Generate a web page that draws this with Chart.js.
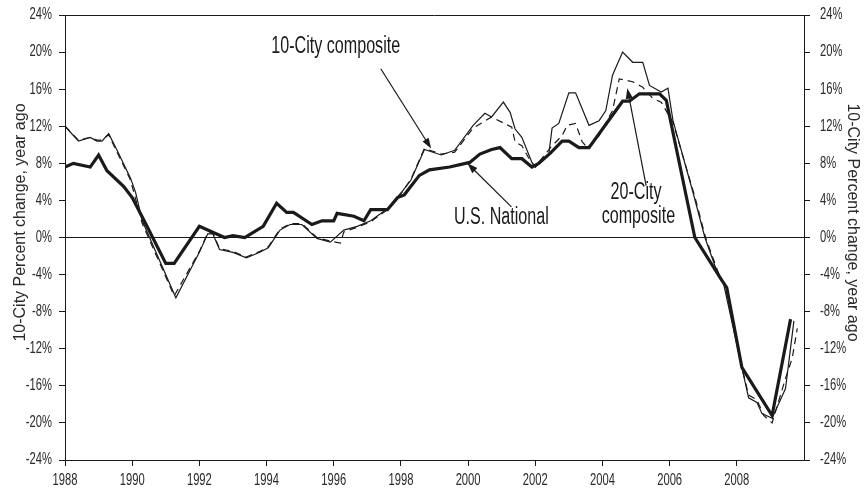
<!DOCTYPE html>
<html>
<head>
<meta charset="utf-8">
<script src="https://cdn.jsdelivr.net/npm/chart.js@4.4.1/dist/chart.umd.min.js"></script>
<style>
  html, body { margin: 0; padding: 0; background: #fff; }
  canvas { display: block; }
</style>
</head>
<body>
<canvas id="c" width="866" height="488"></canvas>
<script>
// ---------------- DATA ----------------
const nationalYears = [1988.0, 1988.25, 1988.75, 1989.0, 1989.25, 1989.75, 1990.0, 1990.4, 1991.0, 1991.25,
  1992.0, 1992.75, 1993.0, 1993.35, 1993.9, 1994.3, 1994.6, 1994.8, 1995.35, 1995.65, 1996.0, 1996.1,
  1996.6, 1996.9, 1997.1, 1997.6, 1997.9, 1998.1, 1998.55, 1998.85, 1999.45, 2000.05, 2000.35, 2000.7,
  2000.95, 2001.3, 2001.6, 2001.9, 2002.1, 2002.45, 2002.8, 2003.0, 2003.3, 2003.6, 2004.6, 2004.8,
  2005.1, 2005.7, 2005.9, 2006.75, 2007.55, 2007.7, 2008.15, 2009.05, 2009.6];
const nationalValues = [7.6, 8.0, 7.6, 8.9, 7.2, 5.5, 4.3, 1.5, -2.8, -2.8,
  1.2, 0.0, 0.2, 0.0, 1.2, 3.7, 2.7, 2.7, 1.4, 1.8, 1.8, 2.6,
  2.3, 1.8, 3.0, 3.0, 4.3, 4.6, 6.7, 7.3, 7.6, 8.1, 9.0, 9.5,
  9.7, 8.5, 8.5, 7.6, 8.0, 9.1, 10.4, 10.4, 9.7, 9.7, 14.7, 14.7,
  15.5, 15.5, 14.8, 0.0, -4.6, -5.4, -14.0, -19.2, -8.8];

const city10Years = [1988.0, 1988.4, 1988.75, 1988.95, 1989.1, 1989.3, 1989.55, 1989.95, 1990.1, 1990.3,
  1991.3, 1992.0, 1992.25, 1992.4, 1992.6, 1993.0, 1993.4, 1993.8, 1994.05, 1994.4, 1994.7, 1995.05,
  1995.5, 1995.9, 1996.3, 1996.7, 1997.1, 1997.6, 1998.0, 1998.3, 1998.7, 1999.2, 1999.6, 2000.15,
  2000.5, 2000.7, 2001.05, 2001.25, 2001.4, 2001.6, 2001.9, 2002.0, 2002.4, 2002.5, 2002.7, 2003.0,
  2003.2, 2003.6, 2003.9, 2004.1, 2004.3, 2004.6, 2004.9, 2005.2, 2005.4, 2005.75, 2005.95, 2006.1,
  2006.7, 2007.05, 2007.45, 2007.6, 2008.15, 2008.35, 2008.6, 2008.75, 2009.05, 2009.45, 2009.7];
const city10Values = [12.0, 10.4, 10.8, 10.4, 10.4, 11.2, 9.4, 6.4, 4.9, 1.8,
  -6.5, -1.6, 0.4, 0.4, -1.3, -1.6, -2.2, -1.6, -1.1, 0.8, 1.4, 1.4,
  -0.1, -0.5, 0.8, 1.2, 1.8, 3.1, 4.8, 6.2, 9.5, 8.9, 9.4, 12.1,
  13.4, 13.0, 14.6, 13.5, 11.7, 10.8, 8.1, 7.6, 8.9, 11.8, 12.3, 15.6,
  15.6, 12.1, 12.6, 13.7, 17.5, 20.0, 18.9, 18.9, 16.4, 15.7, 16.1, 12.6,
  4.8, 0.0, -4.1, -4.9, -14.0, -17.3, -17.8, -19.0, -19.5, -16.3, -9.0];

const city20Years = [1988.0, 1988.4, 1988.75, 1988.95, 1989.1, 1989.3, 1989.55, 1989.95, 1990.3, 1991.25,
  1992.0, 1992.25, 1992.4, 1992.6, 1993.0, 1993.4, 1993.8, 1994.05, 1994.4, 1994.7, 1995.05, 1995.5,
  1995.9, 1996.2, 1996.3, 1996.7, 1997.1, 1997.6, 1998.0, 1998.3, 1998.7, 1999.2, 1999.6, 2000.15,
  2000.7, 2001.3, 2001.4, 2001.6, 2001.8, 2002.0, 2002.45, 2002.8, 2002.95, 2003.2, 2003.4, 2003.55,
  2003.9, 2004.3, 2004.5, 2004.9, 2005.2, 2005.5, 2005.75, 2006.1, 2006.75, 2007.07, 2007.5, 2007.65,
  2008.15, 2008.35, 2008.6, 2008.8, 2009.05, 2009.45, 2009.65, 2009.8];
const city20Values = [12.0, 10.5, 10.8, 10.5, 10.5, 11.1, 9.2, 6.2, 1.5, -6.3,
  -1.5, 0.5, 0.5, -1.2, -1.5, -2.1, -1.5, -1.0, 0.9, 1.5, 1.5, 0.0,
  -0.4, -0.6, 0.6, 1.1, 1.7, 3.0, 4.7, 6.3, 9.6, 9.0, 9.2, 11.8,
  13.0, 11.9, 10.3, 9.9, 8.6, 7.6, 9.7, 11.0, 12.1, 12.3, 10.3, 9.7,
  11.0, 13.7, 17.1, 16.8, 16.2, 15.0, 14.6, 12.4, 4.4, 0.0, -4.3, -5.1,
  -14.0, -17.0, -17.5, -19.2, -20.0, -15.2, -13.0, -9.8];

const yTickValues = [-24, -20, -16, -12, -8, -4, 0, 4, 8, 12, 16, 20, 24];
const xTickYears = [1988, 1990, 1992, 1994, 1996, 1998, 2000, 2002, 2004, 2006, 2008];
const axisTitle = '10-City Percent change, year ago';

// annotation labels & arrows (data coordinates)
const labelTexts = ['10-City composite', 'U.S. National', '20-City', 'composite'];
const labelAt = [[1996.06, 20.55], [2000.99, 2.1], [2005.0, 4.8], [2005.07, 2.2]];
const arrowFrom = [[1997.4, 18.2], [2001.29, 3.3], [2005.3, 5.6]];
const arrowTo = [[1998.9, 9.6], [1999.98, 8.0], [2004.74, 16.1]];

// ---------------- CHART ----------------
const FONT = "'Liberation Sans', Arial, sans-serif";
const INK = '#1a1a1a';
const TXT = '#2a2a2a';
const SQUEEZE = 0.7;
Chart.defaults.font.family = FONT;

const toXY = (xs, ys) => xs.map((x, i) => ({x: x, y: ys[i]}));

function narrowText(ctx, text, x, y, size, align, rot, sx) {
  ctx.save();
  ctx.translate(x, y);
  if (rot) ctx.rotate(rot);
  ctx.scale(sx || SQUEEZE, 1);
  ctx.font = size + 'px ' + FONT;
  ctx.textAlign = align;
  ctx.textBaseline = 'middle';
  ctx.fillText(text, 0, 0);
  ctx.restore();
}

const overlay = {
  id: 'overlay',
  afterDraw(chart) {
    const ctx = chart.ctx, a = chart.chartArea;
    const xs = chart.scales.x, ys = chart.scales.y;
    ctx.save();
    // top frame line
    ctx.strokeStyle = INK; ctx.lineWidth = 1;
    ctx.beginPath(); ctx.moveTo(a.left, a.top + 0.5); ctx.lineTo(a.right, a.top + 0.5); ctx.stroke();

    ctx.fillStyle = TXT;
    // tick labels
    yTickValues.forEach(v => {
      const py = ys.getPixelForValue(v);
      narrowText(ctx, v + '%', a.left - 13, py, 16, 'right');
      narrowText(ctx, v + '%', a.right + 16, py, 16, 'left');
    });
    xTickYears.forEach(v => {
      narrowText(ctx, String(v), xs.getPixelForValue(v), a.bottom + 21, 16, 'center');
    });
    // axis titles
    const cy = (a.top + a.bottom) / 2 - 15;
    narrowText(ctx, axisTitle, 20, cy, 17, 'center', -Math.PI / 2, 0.94);
    narrowText(ctx, axisTitle, 853, cy, 17, 'center', Math.PI / 2, 0.94);

    // labels
    ctx.fillStyle = INK;
    labelTexts.forEach((t, i) => {
      narrowText(ctx, t, xs.getPixelForValue(labelAt[i][0]), ys.getPixelForValue(labelAt[i][1]), 23, 'center');
    });
    // arrows
    arrowFrom.forEach((f, i) => {
      const x1 = xs.getPixelForValue(f[0]), y1 = ys.getPixelForValue(f[1]);
      const x2 = xs.getPixelForValue(arrowTo[i][0]), y2 = ys.getPixelForValue(arrowTo[i][1]);
      const ang = Math.atan2(y2 - y1, x2 - x1);
      ctx.lineWidth = 1.2; ctx.strokeStyle = INK;
      ctx.beginPath(); ctx.moveTo(x1, y1);
      ctx.lineTo(x2 - 8 * Math.cos(ang), y2 - 8 * Math.sin(ang)); ctx.stroke();
      ctx.beginPath();
      ctx.moveTo(x2, y2);
      ctx.lineTo(x2 - 11 * Math.cos(ang - 0.33), y2 - 11 * Math.sin(ang - 0.33));
      ctx.lineTo(x2 - 11 * Math.cos(ang + 0.33), y2 - 11 * Math.sin(ang + 0.33));
      ctx.closePath(); ctx.fill();
    });
    ctx.restore();
  }
};

const yAxis = (pos) => ({
  type: 'linear', position: pos, min: -24, max: 24,
  afterBuildTicks: s => { s.ticks = yTickValues.map(v => ({value: v})); },
  afterFit: s => { s.width = pos === 'left' ? 65 : 62; },
  ticks: { callback: v => v + '%', font: {size: 13}, color: 'rgba(0,0,0,0)', padding: 6 },
  grid: {
    drawOnChartArea: pos === 'left',
    color: c => (c.tick && c.tick.value === 0) ? INK : 'rgba(0,0,0,0)',
    tickColor: INK, tickLength: 6, lineWidth: 1
  },
  border: { display: true, color: INK, width: 1 }
});

new Chart(document.getElementById('c'), {
  type: 'line',
  data: {
    datasets: [
      { label: 'U.S. National', data: toXY(nationalYears, nationalValues), borderColor: INK, borderWidth: 3.2,
        pointRadius: 0, tension: 0, fill: false, borderJoinStyle: 'miter' },
      { label: '10-City composite', data: toXY(city10Years, city10Values), borderColor: INK, borderWidth: 1.2,
        pointRadius: 0, tension: 0, fill: false },
      { label: '20-City composite', data: toXY(city20Years, city20Values), borderColor: INK, borderWidth: 1.2,
        borderDash: [7, 5], pointRadius: 0, tension: 0, fill: false }
    ]
  },
  options: {
    responsive: false, animation: false,
    layout: { padding: { top: 15, left: 0, right: 0, bottom: 0 } },
    plugins: { legend: { display: false }, tooltip: { enabled: false } },
    scales: {
      x: {
        type: 'linear', min: 1988, max: 2010,
        afterBuildTicks: s => { s.ticks = xTickYears.map(v => ({value: v})); },
        afterFit: s => { s.height = 28; },
        ticks: { callback: v => String(v), font: {size: 14}, color: 'rgba(0,0,0,0)', padding: 4, maxRotation: 0 },
        grid: { drawOnChartArea: false, tickColor: INK, tickLength: 6 },
        border: { display: true, color: INK, width: 1 }
      },
      y: yAxis('left'),
      y2: yAxis('right')
    }
  },
  plugins: [overlay]
});
</script>
</body>
</html>
